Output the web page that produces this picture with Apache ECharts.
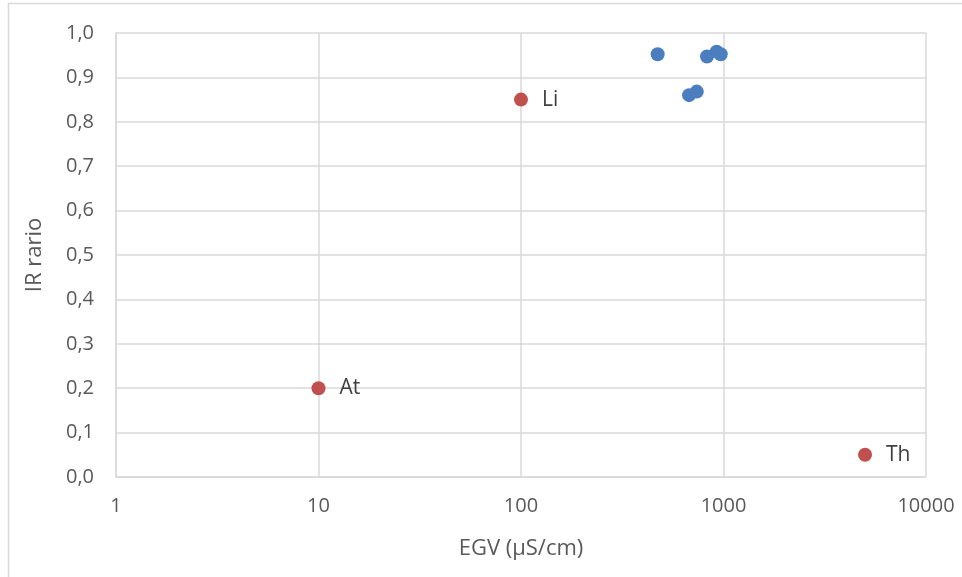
<!DOCTYPE html>
<html>
<head>
<meta charset="utf-8">
<script src="https://cdn.jsdelivr.net/npm/echarts@6/dist/echarts.min.js"></script>
<style>html,body{margin:0;padding:0;background:#fff;}#c{width:962px;height:577px;}</style>
</head>
<body>
<div id="c"></div>
<script>
var xTicks = [1, 10, 100, 1000, 10000];
var blueEGV = [473, 676, 738, 829, 925, 969];
var blueIR = [0.952, 0.860, 0.868, 0.947, 0.958, 0.952];
var redNames = ['At', 'Li', 'Th'];
var redEGV = [10, 100, 5000];
var redIR = [0.20, 0.85, 0.05];

var font = '"Open Sans", "Liberation Sans", sans-serif';
var chart = echarts.init(document.getElementById('c'), null, {renderer: 'canvas'});
var blueData = blueEGV.map(function (v, i) { return [v, blueIR[i]]; });
var redData = redEGV.map(function (v, i) { return {name: redNames[i], value: [v, redIR[i]]}; });

chart.setOption({
  animation: false,
  backgroundColor: '#ffffff',
  graphic: [{
    type: 'rect', shape: {x: 8.5, y: 3.5, width: 1000, height: 1000},
    style: {fill: 'none', stroke: '#d9d9d9', lineWidth: 1.5}, silent: true
  }],
  grid: {left: 116, right: 36, top: 33, bottom: 100},
  xAxis: {
    type: 'log', logBase: 10, min: 1, max: 10000,
    name: 'EGV (µS/cm)', nameLocation: 'middle', nameGap: 61,
    nameTextStyle: {color: '#595959', fontSize: 22, fontFamily: font},
    axisLine: {show: true, lineStyle: {color: '#d9d9d9', width: 1.5}},
    axisTick: {show: false},
    minorTick: {show: false},
    splitLine: {show: true, lineStyle: {color: '#d9d9d9', width: 1.5}},
    axisLabel: {color: '#595959', fontSize: 20, fontFamily: font, margin: 19,
      formatter: function (v) { return String(Math.round(v)); }}
  },
  yAxis: {
    type: 'value', min: 0, max: 1, interval: 0.1,
    name: 'IR rario', nameLocation: 'middle', nameGap: 70,
    nameTextStyle: {color: '#595959', fontSize: 22, fontFamily: font},
    axisLine: {show: true, lineStyle: {color: '#d9d9d9', width: 1.5}},
    axisTick: {show: false},
    splitLine: {show: true, lineStyle: {color: '#d9d9d9', width: 1.5}},
    axisLabel: {color: '#595959', fontSize: 20, fontFamily: font, margin: 22,
      formatter: function (v) { return v.toFixed(1).replace('.', ','); }}
  },
  series: [{
    type: 'scatter', data: blueData, symbolSize: 14,
    itemStyle: {color: '#4a7ebf', opacity: 1}
  }, {
    type: 'scatter', data: redData, symbolSize: 14,
    itemStyle: {color: '#c0504d', opacity: 1},
    label: {show: true, position: 'right', distance: 14, formatter: '{b}',
      color: '#404040', fontSize: 21, fontFamily: font}
  }]
});
</script>
</body>
</html>
